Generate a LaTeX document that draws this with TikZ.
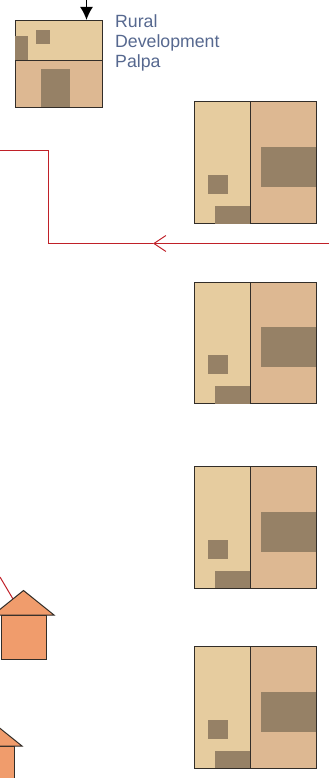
\documentclass[tikz,border=0pt]{standalone}
\usepackage{fontspec}
\setmainfont{Liberation Sans}
\usepackage{xcolor}
\usetikzlibrary{arrows.meta, positioning}
\definecolor{wallpale}{RGB}{230, 204, 159}
\definecolor{walldark}{RGB}{221, 184, 146}
\definecolor{patch}{RGB}{150, 129, 102}
\definecolor{house}{RGB}{240, 156, 108}
\definecolor{outline}{RGB}{50, 45, 40}
\definecolor{feeder}{RGB}{192, 32, 40}
\definecolor{caption}{RGB}{86, 104, 143}
\tikzset{
    palewall/.style={draw=outline, fill=wallpale, line width=1pt, inner sep=0pt, outer sep=0pt, anchor=north west},
    darkwall/.style={draw=outline, fill=walldark, line width=1pt, inner sep=0pt, outer sep=0pt},
    housebody/.style={draw=outline, fill=house, line width=1pt, inner sep=0pt, outer sep=0pt, minimum width=45pt, minimum height=44.5pt, anchor=north},
    houseroof/.style={draw=outline, fill=house, line width=1pt, line join=miter},
    feedline/.style={draw=feeder, line width=1pt}
}

\begin{document}
\begin{tikzpicture}[x=1pt, y=-1pt]
    \clip (0,0) rectangle (329,778);

    % Small building
    \node[palewall, minimum width=87.5pt, minimum height=40.5pt] (palpatop) at (15,20.5) {};
    \node[darkwall, minimum width=87.5pt, minimum height=46.5pt, below=0pt of palpatop] (palpabase) {};
    \fill[patch] (36,30) rectangle (50,44);
    \fill[patch] (15,36) rectangle (28,60.5);
    \fill[patch] (41,69) rectangle (70,107.5);
    \node[text=caption, font=\fontsize{17.7}{20}\selectfont, align=left, anchor=north west, inner sep=0pt] (palpalabel) at (115,14.5) {Rural\\Development\\Palpa};
    \coordinate (intake) at (86.5,0);
    \coordinate (palpain) at (86.5,20);
    \draw[-{Latex[length=13pt,width=13pt]}, line width=1.6pt, color=black] (intake) -- (palpain);

    % Large buildings
    \foreach \blockname/\blocky in {blockone/102, blocktwo/282, blockthree/466.5, blockfour/646.5} {
        \node[palewall, minimum width=56.5pt, minimum height=121.5pt] (\blockname left) at (194,\blocky) {};
        \node[darkwall, minimum width=65.5pt, minimum height=121.5pt, right=0pt of \blockname left] (\blockname right) {};
        \fill[patch] (208,\blocky+73) rectangle (228,\blocky+92);
        \fill[patch] (215,\blocky+104) rectangle (250,\blocky+121.5);
        \fill[patch] (261,\blocky+45) rectangle (316,\blocky+85);
        \draw[outline, line width=1pt] (\blockname left.north east) -- (\blockname left.south east);
    }

    % Feed line
    \coordinate (feedright) at (329,243.5);
    \coordinate (feedmid) at (153,243.5);
    \coordinate (feedlow) at (48,243.5);
    \coordinate (feedhigh) at (48,150.5);
    \coordinate (feedleft) at (0,150.5);
    \draw[feedline, -{Straight Barb[length=12pt,width=16pt]}] (feedright) -- (feedmid);
    \draw[feedline] (feedmid) -- (feedlow) -- (feedhigh) -- (feedleft);

    % Houses
    \coordinate (branchend) at (0,577);
    \coordinate (roofonejoin) at (13,599);
    \draw[feedline] (branchend) -- (roofonejoin);
    \node[housebody] (houseone) at (24,615) {};
    \draw[houseroof] (-7,615) -- (23.5,590.5) -- (54,615) -- cycle;
    \node[housebody] (housetwo) at (-8,746) {};
    \draw[houseroof] (-38.5,746) -- (-8.5,721.5) -- (22,746) -- cycle;
\end{tikzpicture}
\end{document}
